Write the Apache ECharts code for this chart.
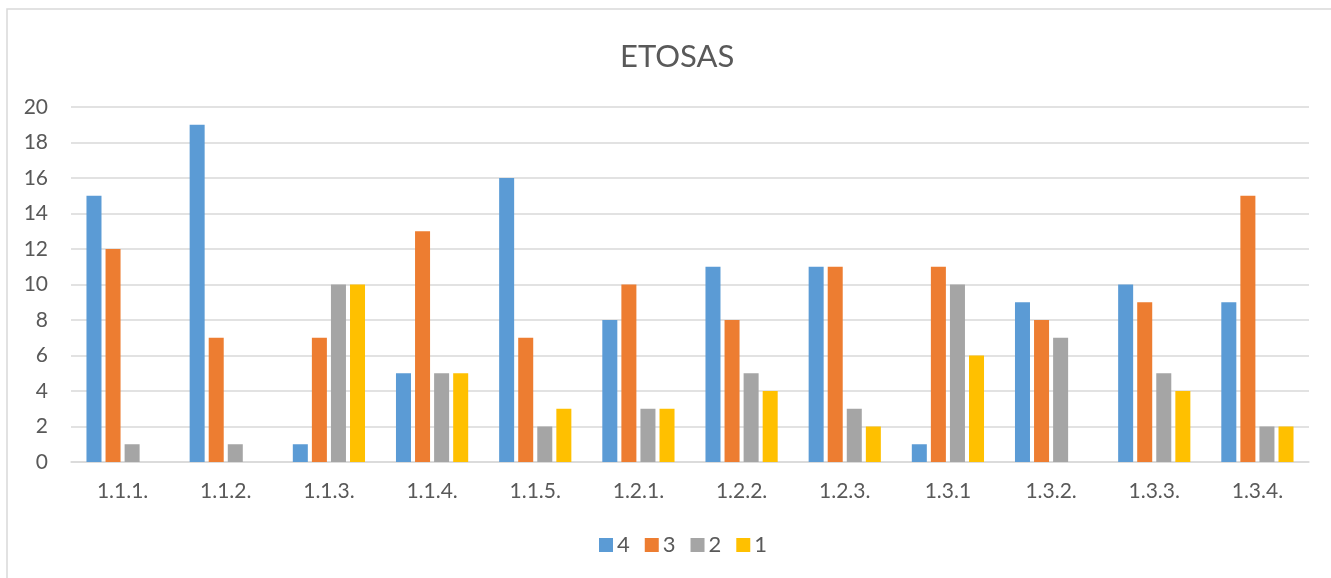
<!DOCTYPE html>
<html>
<head>
<meta charset="utf-8">
<script src="https://cdn.jsdelivr.net/npm/echarts@6/dist/echarts.min.js"></script>
<style>
  html, body { margin: 0; padding: 0; background: #fff; }
  #chart { width: 1331px; height: 578px; }
</style>
</head>
<body>
<div id="chart"></div>
<script>
const categories = ['1.1.1.', '1.1.2.', '1.1.3.', '1.1.4.', '1.1.5.', '1.2.1.', '1.2.2.', '1.2.3.', '1.3.1', '1.3.2.', '1.3.3.', '1.3.4.']
const s4 = [15, 19, 1, 5, 16, 8, 11, 11, 1, 9, 10, 9]
const s3 = [12, 7, 7, 13, 7, 10, 8, 11, 11, 8, 9, 15]
const s2 = [1, 1, 10, 5, 2, 3, 5, 3, 10, 7, 5, 2]
const s1 = [0, 0, 10, 5, 3, 3, 4, 2, 6, 0, 4, 2]

const font = 'Lato, "Open Sans", sans-serif'
const textColor = '#595959'

const chart = echarts.init(document.getElementById('chart'))

const bar = (name, data, color) => ({
  name, type: 'bar', data,
  barGap: '27%', barCategoryGap: '30%',
  itemStyle: { color },
})

chart.setOption({
  animation: false,
  textStyle: { fontFamily: font },
  title: {
    text: 'ETOSAS', left: 615, top: 36,
    textStyle: { fontFamily: font, fontSize: 31, fontWeight: 'normal', color: textColor },
  },
  graphic: [
    { type: 'rect', shape: { x: 7, y: 9, width: 1400, height: 700 }, style: { fill: 'none', stroke: '#d9d9d9', lineWidth: 1.5 } },
  ],
  legend: {
    bottom: 17, left: 594,
    itemWidth: 14, itemHeight: 14, itemGap: 15,
    icon: 'rect',
    textStyle: { fontFamily: font, fontSize: 22, color: textColor, padding: [0, 0, 0, -1] },
    data: ['4', '3', '2', '1'],
  },
  grid: { left: 71, right: 22, top: 107, bottom: 116 },
  xAxis: {
    type: 'category', data: categories,
    axisLine: { lineStyle: { color: '#d9d9d9', width: 1.5 } },
    axisTick: { show: false },
    axisLabel: { fontFamily: font, fontSize: 21, color: textColor, margin: 19 },
  },
  yAxis: {
    type: 'value', min: 0, max: 20, interval: 2,
    axisLine: { show: false },
    axisTick: { show: false },
    axisLabel: { fontFamily: font, fontSize: 21, color: textColor, margin: 23 },
    splitLine: { lineStyle: { color: '#d9d9d9', width: 1.5 } },
  },
  series: [
    bar('4', s4, '#5b9bd5'),
    bar('3', s3, '#ed7d31'),
    bar('2', s2, '#a5a5a5'),
    bar('1', s1, '#ffc000'),
  ],
})
</script>
</body>
</html>
